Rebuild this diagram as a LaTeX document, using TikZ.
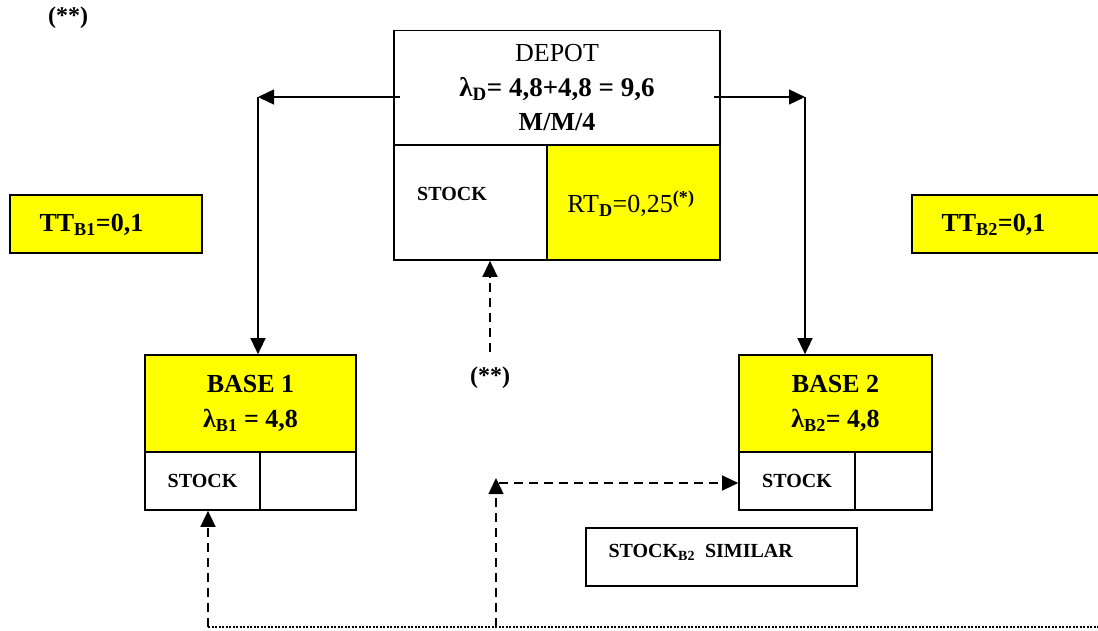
\documentclass[tikz,border=0pt]{standalone}
\usepackage{fontspec}
\setmainfont{Liberation Serif}
\usetikzlibrary{arrows.meta}
\definecolor{ylw}{RGB}{255,255,0}

\tikzset{
  cell/.style={draw, line width=1.7pt, inner sep=0pt},
  ycell/.style={cell, fill=ylw},
  big/.style={font=\fontsize{26}{34.5}\selectfont, align=center},
  small/.style={font=\fontsize{20}{24}\selectfont\bfseries},
  flow/.style={line width=1.4pt, -{Triangle[length=16pt,width=15pt]}},
  back/.style={flow, dash pattern=on 9pt off 6pt},
}

\begin{document}
\begin{tikzpicture}[x=1pt,y=-1pt]
\useasboundingbox (0,0) rectangle (1098,630);

% depot
\node[cell, big, minimum width=326pt, minimum height=115pt] (depot) at (557,88)
  {DEPOT\\ \textbf{\fontsize{27}{34.5}\selectfont λ\textsubscript{D}= 4,8+4,8 = 9,6}\\ \textbf{M/M/4}};
\node[cell, minimum width=153pt, minimum height=115pt] (dstock) at (470.5,202.5) {};
\node[ycell, minimum width=173pt, minimum height=115pt] (drt) at (633.5,202.5) {};
\node[small] (dstocktxt) at (452,194) {STOCK};
\node[big] (drttxt) at (631,204) {RT\textsubscript{\textbf{D}}=0,25\textsuperscript{\textbf{(*)}}};

% transport times
\node[ycell, minimum width=192pt, minimum height=58pt] (tt1) at (106,224) {};
\node[big, anchor=west] (tt1txt) at (36,225) {\textbf{TT\textsubscript{B1}=0,1}};
\node[ycell, minimum width=190pt, minimum height=58pt] (tt2) at (1007,224) {};
\node[big, anchor=west] (tt2txt) at (938,225) {\textbf{TT\textsubscript{B2}=0,1}};

% bases
\node[ycell, big, font=\fontsize{26}{35}\selectfont\bfseries, minimum width=211pt, minimum height=97pt] (base1) at (250.5,403.5)
  {BASE 1\\ λ\textsubscript{B1} = 4,8};
\node[cell, small, minimum width=115pt, minimum height=58pt] (b1stock) at (202.5,481) {STOCK};
\node[cell, minimum width=96pt, minimum height=58pt] (b1rest) at (308,481) {};

\node[ycell, big, font=\fontsize{26}{35}\selectfont\bfseries, minimum width=193pt, minimum height=97pt] (base2) at (835.5,403.5)
  {BASE 2\\ λ\textsubscript{B2}= 4,8};
\node[cell, small, minimum width=116pt, minimum height=58pt] (b2stock) at (797,481) {STOCK};
\node[cell, minimum width=77pt, minimum height=58pt] (b2rest) at (893.5,481) {};

\node[cell, minimum width=271pt, minimum height=58pt] (similar) at (721.5,557) {};
\node[small, anchor=west] (similartxt) at (605,552) {STOCK\textsubscript{B2}\ \ SIMILAR};

% labels
\node[big, font=\fontsize{24}{28}\selectfont\bfseries] (star1) at (68,18) {(**)};
\node[big, font=\fontsize{24}{28}\selectfont\bfseries] (star2) at (490,378) {(**)};

% repair flows
\coordinate (dl) at (400,97);
\coordinate (dr) at (714,97);
\coordinate (cl) at (258,97);
\coordinate (cr) at (805,97);
\draw[flow] (dl) -- (cl);
\draw[flow] (cl) -- (cl |- base1.north);
\draw[flow] (dr) -- (cr);
\draw[flow] (cr) -- (cr |- base2.north);

% replenishment
\coordinate (s2) at (490,352);
\coordinate (p1) at (208,627);
\coordinate (p2) at (496,627);
\coordinate (p3) at (496,478);
\coordinate (p4) at (499,483);
\coordinate (pe) at (1098,627);
\draw[back] (s2) -- (s2 |- dstock.south);
\draw[back] (p1) -- (p1 |- b1stock.south);
\draw[back] (p2) -- (p3);
\draw[back] (p4) -- (b2stock.west |- p4);
\draw[line width=2pt, dash pattern=on 2pt off 1.5pt] (p1) -- (pe);
\end{tikzpicture}
\end{document}
